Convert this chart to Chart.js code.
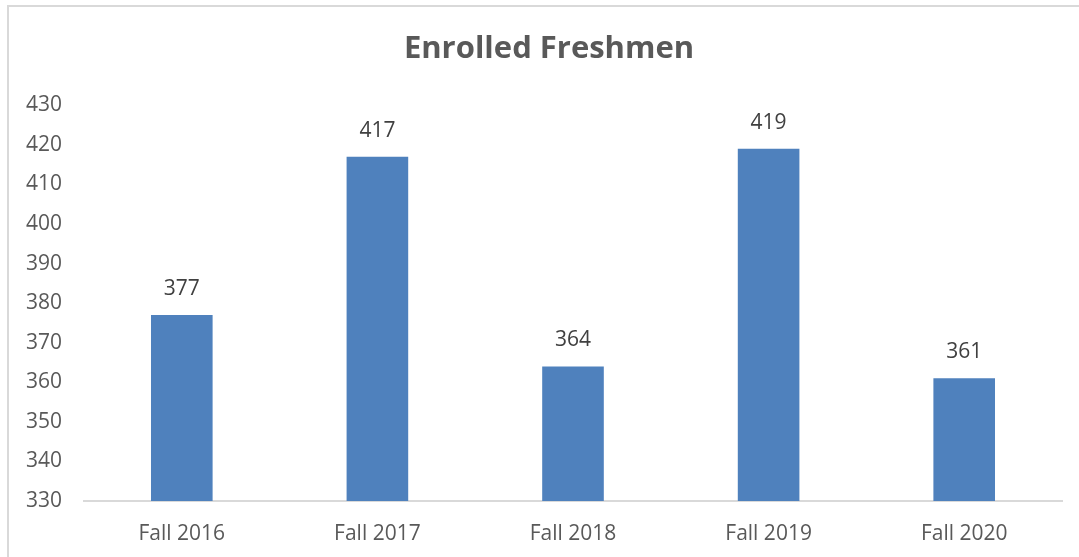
<!DOCTYPE html>
<html>
<head>
<meta charset="utf-8">
<script src="https://cdn.jsdelivr.net/npm/chart.js@4/dist/chart.umd.min.js"></script>
<style>
    html, body { margin: 0; padding: 0; background: #fff; }
    #wrap { position: relative; width: 1079px; height: 557px; overflow: hidden; }
    #frame { position: absolute; left: 7px; top: 5px; width: 1200px; height: 700px;
             border-top: 2px solid #d9d9d9; border-left: 2px solid #d9d9d9; }
    canvas { position: absolute; left: 0; top: 0; }
</style>
</head>
<body>
<div id="wrap">
    <div id="frame"></div>
    <canvas id="freshmenChart" width="1079" height="557"></canvas>
</div>
<script>
// Datos del gráfico
const semestres = ['Fall 2016', 'Fall 2017', 'Fall 2018', 'Fall 2019', 'Fall 2020'];
const inscritos = [377, 417, 364, 419, 361];
const ticksEje = [330, 340, 350, 360, 370, 380, 390, 400, 410, 420, 430];

const fuente = "'Open Sans', 'Noto Sans', sans-serif";

// Etiquetas de valor encima de cada barra
const etiquetasValor = {
    id: 'etiquetasValor',
    afterLayout(chart) {
        // el título del original está algo desplazado a la derecha
        chart.titleBlock.left += 20;
    },
    afterDatasetsDraw(chart) {
        const ctx = chart.ctx;
        const meta = chart.getDatasetMeta(0);
        ctx.save();
        ctx.font = '21px ' + fuente;
        ctx.fillStyle = '#404040';
        ctx.textAlign = 'center';
        ctx.textBaseline = 'middle';
        meta.data.forEach((bar, i) => {
            ctx.fillText(String(chart.data.datasets[0].data[i]), bar.x, bar.y - 26);
        });
        ctx.restore();
    }
};

const ctx = document.getElementById('freshmenChart').getContext('2d');
new Chart(ctx, {
    type: 'bar',
    data: {
        labels: semestres,
        datasets: [{
            label: 'Enrolled Freshmen',
            data: inscritos,
            backgroundColor: '#4f81bd',
            borderWidth: 0,
            categoryPercentage: 1,
            barPercentage: 0.315
        }]
    },
    options: {
        responsive: false,
        animation: false,
        layout: { padding: { left: 16, right: 17, top: 0, bottom: 0 } },
        plugins: {
            legend: { display: false },
            tooltip: { enabled: false },
            title: {
                display: true,
                text: 'Enrolled Freshmen',
                color: '#595959',
                font: { family: fuente, size: 31, weight: 'bold' },
                padding: { top: 31, bottom: 37 }
            }
        },
        scales: {
            x: {
                afterFit: axis => { axis.height = 56; },
                grid: { display: false, drawTicks: false },
                border: { display: true, color: '#d9d9d9', width: 2 },
                ticks: { color: '#595959', font: { family: fuente, size: 21 }, padding: 20 }
            },
            y: {
                min: 330,
                max: 430,
                afterBuildTicks: axis => { axis.ticks = ticksEje.map(v => ({ value: v })); },
                afterFit: axis => { axis.width = 68; },
                grid: { display: false, drawTicks: false },
                border: { display: false },
                ticks: { color: '#595959', font: { family: fuente, size: 21 }, padding: 22 }
            }
        }
    },
    plugins: [etiquetasValor]
});
</script>
</body>
</html>
